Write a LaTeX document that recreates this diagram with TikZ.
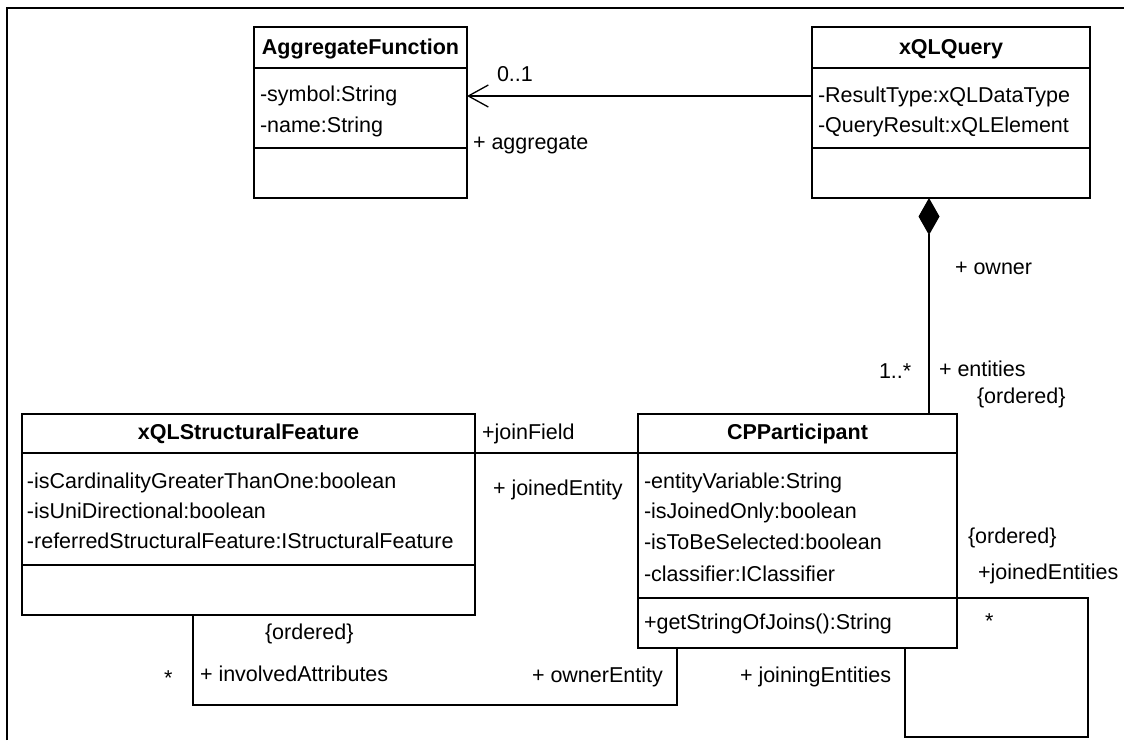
\documentclass[tikz,border=0pt]{standalone}
\usepackage{fontspec}
\setmainfont{Liberation Sans}
\usetikzlibrary{arrows.meta}

\begin{document}
\begin{tikzpicture}[x=1pt,y=-1pt,
  every node/.style={font=\fontsize{21.5}{25}\selectfont, inner sep=0pt, outer sep=0pt},
  classbox/.style={draw, line width=1.3pt, rectangle, anchor=north west},
  classname/.style={font=\fontsize{21.5}{25}\selectfont\bfseries, text height=15pt, text depth=2pt},
  member/.style={anchor=west, text height=15pt, text depth=2pt},
  role/.style={anchor=west, text height=15pt, text depth=2pt},
  link/.style={line width=1.3pt},
  sep/.style={line width=1.3pt},
]
\useasboundingbox (0,0) rectangle (1124,740);

% outer frame (top and left edges)
\draw[line width=2.3pt] (7.2,740) -- (7.2,7.7) -- (1124,7.7);

% ---------- AggregateFunction ----------
\node[classbox, minimum width=213pt, minimum height=171pt] (agg) at (254,27) {};
\draw[sep] (agg.west |- 0,68) -- (agg.east |- 0,68);
\draw[sep] (agg.west |- 0,148) -- (agg.east |- 0,148);
\node[classname] (agg-name) at (360.5,48) {AggregateFunction};
\node[member] (agg-a1) at (260,95) {-symbol:String};
\node[member] (agg-a2) at (260,126) {-name:String};

% ---------- xQLQuery ----------
\node[classbox, minimum width=278pt, minimum height=171pt] (xq) at (812,27) {};
\draw[sep] (xq.west |- 0,68) -- (xq.east |- 0,68);
\draw[sep] (xq.west |- 0,148) -- (xq.east |- 0,148);
\node[classname] (xq-name) at (951,48) {xQLQuery};
\node[member] (xq-a1) at (818,96) {-ResultType:xQLDataType};
\node[member] (xq-a2) at (818,126) {-QueryResult:xQLElement};

% ---------- xQLStructuralFeature ----------
\node[classbox, minimum width=453pt, minimum height=201pt] (sf) at (22,414) {};
\draw[sep] (sf.west |- 0,453) -- (sf.east |- 0,453);
\draw[sep] (sf.west |- 0,565) -- (sf.east |- 0,565);
\node[classname] (sf-name) at (248.5,433) {xQLStructuralFeature};
\node[member] (sf-a1) at (27,482) {-isCardinalityGreaterThanOne:boolean};
\node[member] (sf-a2) at (27,512) {-isUniDirectional:boolean};
\node[member] (sf-a3) at (27,542) {-referredStructuralFeature:IStructuralFeature};

% ---------- CPParticipant ----------
\node[classbox, minimum width=319pt, minimum height=234pt] (cp) at (638,414) {};
\draw[sep] (cp.west |- 0,453) -- (cp.east |- 0,453);
\draw[sep] (cp.west |- 0,598) -- (cp.east |- 0,598);
\node[classname] (cp-name) at (797.5,433) {CPParticipant};
\node[member] (cp-a1) at (644,482) {-entityVariable:String};
\node[member] (cp-a2) at (644,512) {-isJoinedOnly:boolean};
\node[member] (cp-a3) at (644,543) {-isToBeSelected:boolean};
\node[member] (cp-a4) at (644,575) {-classifier:IClassifier};
\node[member] (cp-o1) at (644,623) {+getStringOfJoins():String};

% ---------- bend points ----------
\coordinate (compX) at (929,0);
\coordinate (joinY) at (0,453);
\coordinate (ia1) at (193,705);
\coordinate (ia2) at (677,705);
\coordinate (je0) at (1088,598);
\coordinate (je1) at (1088,737);
\coordinate (je2) at (905,737);

% ---------- associations ----------
% xQLQuery -> AggregateFunction
\draw[link, -{Straight Barb[length=20pt,width=22pt,line width=1.3pt]}]
  (xq.west |- xq-a1) -- (agg.east |- xq-a1);
\node[role] (l-01) at (497,75) {0..1};
\node[role] (l-agg) at (473,143) {+ aggregate};

% composition xQLQuery <>-- CPParticipant
\draw[link, -{Diamond[length=37pt,width=21pt]}]
  (cp.north -| compX) -- (xq.south -| compX);
\node[role] (l-owner) at (955,268) {+ owner};
\node[role] (l-1n) at (879,372) {1..*};
\node[role] (l-ent) at (939,370) {+ entities};
\node[role] (l-ord1) at (977,397) {\{ordered\}};

% xQLStructuralFeature -- CPParticipant (join)
\draw[link] (sf.east |- joinY) -- (cp.west |- joinY);
\node[role] (l-jf) at (482,433) {+joinField};
\node[role] (l-je) at (493,489) {+ joinedEntity};

% xQLStructuralFeature -- CPParticipant (involved attributes)
\draw[link] (sf.south -| ia1) -- (ia1) -- (ia2) -- (cp.south -| ia2);
\node[role] (l-ord2) at (265,633) {\{ordered\}};
\node[role] (l-star1) at (164,679) {*};
\node[role] (l-ia) at (200,675) {+ involvedAttributes};
\node[role] (l-oe) at (532,676) {+ ownerEntity};

% CPParticipant self association
\draw[link] (cp.east |- je0) -- (je0) -- (je1) -- (je2) -- (cp.south -| je2);
\node[role] (l-ord3) at (968,537) {\{ordered\}};
\node[role] (l-jes) at (978,573) {+joinedEntities};
\node[role] (l-star2) at (985,622) {*};
\node[role] (l-jing) at (740,676) {+ joiningEntities};
\end{tikzpicture}
\end{document}
